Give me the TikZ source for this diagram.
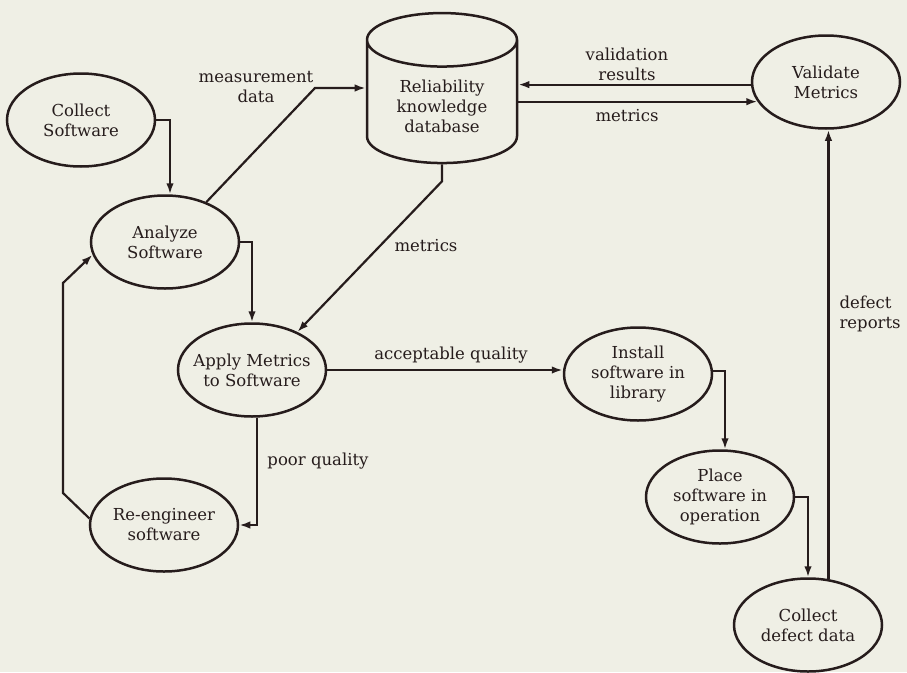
\documentclass[tikz,border=0pt]{standalone}
\usepackage{fontspec}
\setmainfont{DejaVu Serif}
\usetikzlibrary{shapes.geometric}
\usetikzlibrary{arrows.meta}
\definecolor{paper}{RGB}{239,239,229}
\definecolor{ink}{RGB}{38,28,28}
\tikzset{proc/.style={ellipse,draw=ink,line width=2.5pt,minimum width=148pt,
		minimum height=93pt,inner sep=0pt,align=center,text=ink},
	store/.style={cylinder,shape border rotate=90,draw=ink,line width=2.5pt,
		aspect=0.55,minimum width=150pt,minimum height=150pt,align=center,text=ink},
	lbl/.style={align=center,text=ink}}

\begin{document}
\begin{tikzpicture}[x=1pt,y=-1pt,font=\fontsize{16.5}{20}\selectfont]
		\fill[paper] (0,0) rectangle (907,672);
		\useasboundingbox (0,0) rectangle (907,672);
		\begin{scope}[every node/.style={proc}]
			\node (CS) at (81,120) {Collect\\Software};
			\node (AS) at (165,242) {Analyze\\Software};
			\node[inner xsep=-7pt] (AM) at (252,370) {Apply Metrics\\to Software};
			\node (RE) at (164,525) {Re-engineer\\software};
			\node (IL) at (638,374) {Install\\software in\\library};
			\node (PO) at (720,497) {Place\\software in\\operation};
			\node (CD) at (808,625) {Collect\\defect data};
			\node (VM) at (826,82) {Validate\\Metrics};
		\end{scope}
		\node[store] (DB) at (442,106) {Reliability\\knowledge\\database};
		\begin{scope}[>={Latex[length=11pt,width=7.5pt]},color=ink,line width=2.2pt]
			\draw [->] (CS.east) -| ([xshift=5pt]AS.north);
			\draw [->] (AS.44) -- (315,88) -- (DB.west |- 0,88);
			\draw [->] (AS.east) -| (AM.north);
			\draw [->] (DB.south) -- ++(0,17) -- (AM.40);
			\draw [->] (VM.182) -- (DB.east |- VM.182);
			\draw [->] (DB.east |- VM.196) -- (VM.196);
			\draw [->] (AM.east) -- (IL.west |- AM.east);
			\draw [->] ([xshift=5pt]AM.south) |- (RE.east);
			\draw [->] (RE.175) -- (63,493) -- (63,283) -- (AS.190);
			\draw [->] ([yshift=3pt]IL.east) -| ([xshift=5pt]PO.north);
			\draw [->] (PO.east) -| (CD.north);
			\draw [->] (CD.66) -- (CD.66 |- VM.south);
		\end{scope}
		\node[lbl] (mdata) at (256,87) {measurement\\data};
		\node[lbl] (mdb) at (426,246) {metrics};
		\node[lbl] (vres) at (627,64) {validation\\results};
		\node[lbl] (mvm) at (627,116) {metrics};
		\node[lbl] (good) at (451,355) {acceptable quality};
		\node[lbl] (poor) at (318,461) {poor quality};
		\node[lbl,align=left,anchor=west] (drep) at (836,314) {defect\\reports};
	\end{tikzpicture}
\end{document}
